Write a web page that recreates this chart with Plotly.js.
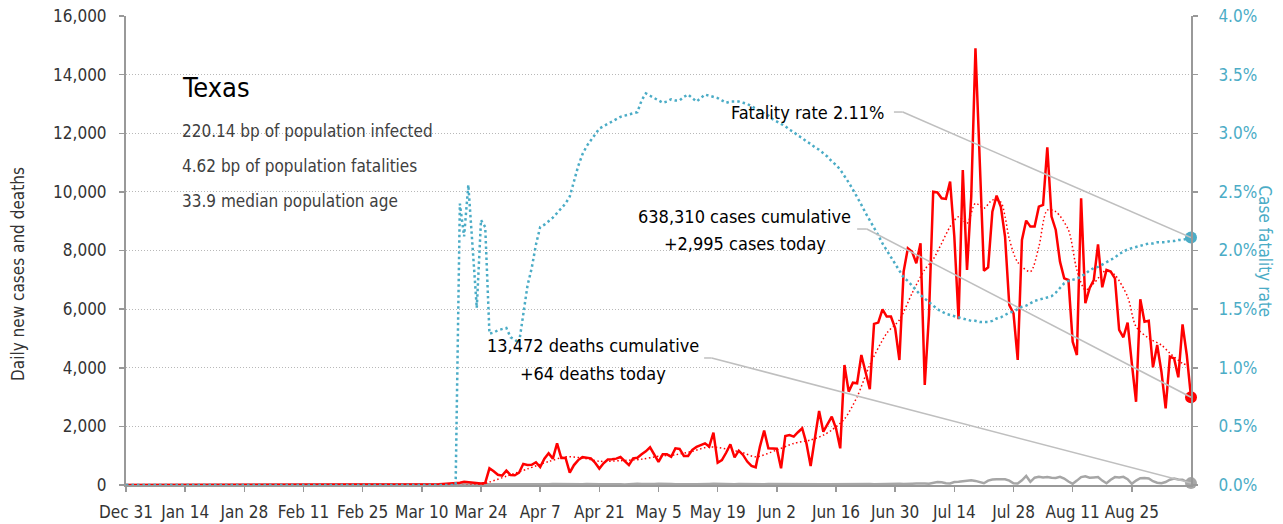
<!DOCTYPE html>
<html>
<head>
<meta charset="utf-8">
<script src="https://cdn.plot.ly/plotly-3.0.1.min.js"></script>
<style>
  html, body { margin: 0; padding: 0; background: #fff; }
  #chart { width: 1283px; height: 524px; }
</style>
</head>
<body>
<div id="chart"></div>
<script>
// ---------------- DATA ----------------
const startDate = '2019-12-31';

// Daily new cases, one value per day from Dec 31, 2019 to Sep 8, 2020
const dailyCases = [
  0,
  // Jan
  0,0,0,0,0,0,0,0,0,0,0,0,0,0,0,0,0,0,0,0,0,0,0,0,0,0,0,0,0,0,0,
  // Feb
  0,0,0,0,0,0,0,0,0,0,0,0,0,0,0,0,0,0,0,0,0,0,0,0,0,0,0,0,0,
  // Mar
  0,0,0,1,0,2,3,5,8,4,10,14,18,25,35,40,60,55,80,110,95,70,60,50,70,570,470,350,320,490,340,
  // Apr
  330,420,716,680,690,775,610,900,1080,900,1420,920,930,420,680,850,950,930,910,760,560,740,870,875,900,955,800,680,910,930,
  // May
  1050,1150,1285,1050,790,1045,1045,960,1250,1230,990,990,1200,1300,1365,1420,1310,1785,760,850,1100,1390,945,1170,1025,800,650,605,1310,1855,1250,
  // Jun
  1250,1240,570,1670,1705,1650,1800,1935,1420,650,1590,2525,1820,2100,2330,1935,1250,4095,3185,3490,3470,4435,3865,3265,5495,5540,5995,5745,5745,5345,
  // Jul
  4265,7280,8075,7960,7565,8245,3410,5800,10005,9980,9780,9760,10350,8470,5655,10745,7335,9835,14900,11315,7310,7425,9325,9870,9495,8470,6140,5855,4265,8360,9020,
  // Aug
  8815,8815,9495,9555,11520,9155,8700,7620,7050,6995,4890,4435,9780,6200,6710,6995,8210,6745,7335,7280,7050,5290,5040,5540,4150,2840,6335,5570,5605,4015,4775,
  // Sep
  3865,2615,4380,4320,3675,5480,4435,2995
];

// Daily new deaths, same days
const dailyDeaths = [
  0,
  0,0,0,0,0,0,0,0,0,0,0,0,0,0,0,0,0,0,0,0,0,0,0,0,0,0,0,0,0,0,0,
  0,0,0,0,0,0,0,0,0,0,0,0,0,0,0,0,0,0,0,0,0,0,0,0,0,0,0,0,0,
  0,0,0,0,0,0,0,0,0,0,0,0,0,0,0,0,0,1,1,2,1,3,2,4,5,3,6,8,9,7,12,
  14,10,15,18,16,22,12,20,25,30,28,22,20,18,25,30,28,35,26,20,22,28,32,30,35,25,18,30,38,40,
  35,28,22,35,42,45,38,30,25,30,32,38,28,24,20,30,35,40,32,28,22,18,26,35,30,28,25,20,18,24,30,
  28,35,30,22,20,26,32,30,28,25,20,18,22,28,30,25,20,18,25,30,28,35,40,30,22,28,35,40,45,50,
  42,30,25,45,55,40,50,45,80,100,95,60,55,100,110,130,150,160,140,110,60,150,190,200,190,195,150,60,50,160,310,
  110,250,280,260,270,250,240,280,220,120,40,150,270,300,250,260,270,150,60,180,270,260,280,200,40,150,230,240,220,130,80,
  60,100,180,220,190,180,110,64
];

// Case fatality rate (%), same days
const fatalityRate = [
  0,
  0,0,0,0,0,0,0,0,0,0,0,0,0,0,0,0,0,0,0,0,0,0,0,0,0,0,0,0,0,0,0,
  0,0,0,0,0,0,0,0,0,0,0,0,0,0,0,0,0,0,0,0,0,0,0,0,0,0,0,0,0,
  0,0,0,0,0,0,0,0,0,0,0,0,0,0,0,0,0,0,2.40,2.12,2.56,2.00,1.51,2.26,2.20,1.29,1.30,1.32,1.33,1.34,1.26,
  1.24,1.21,1.45,1.70,1.85,2.05,2.20,2.22,2.25,2.28,2.32,2.36,2.40,2.46,2.60,2.72,2.82,2.89,2.94,2.99,3.04,3.06,3.08,3.10,3.12,3.14,3.15,3.16,3.17,3.18,
  3.28,3.34,3.32,3.30,3.28,3.26,3.27,3.29,3.28,3.28,3.31,3.33,3.30,3.27,3.30,3.33,3.32,3.31,3.30,3.28,3.26,3.27,3.27,3.27,3.26,3.25,3.23,3.21,3.19,3.17,3.15,
  3.12,3.10,3.08,3.06,3.03,3.01,2.98,2.96,2.93,2.91,2.88,2.86,2.83,2.80,2.76,2.73,2.69,2.64,2.58,2.52,2.46,2.39,2.32,2.26,2.19,2.13,2.06,2.00,1.94,1.88,
  1.83,1.77,1.74,1.70,1.66,1.62,1.59,1.56,1.53,1.50,1.48,1.46,1.45,1.44,1.43,1.42,1.41,1.40,1.40,1.39,1.39,1.39,1.40,1.42,1.43,1.45,1.47,1.48,1.50,1.52,1.53,
  1.55,1.57,1.58,1.59,1.60,1.61,1.64,1.68,1.72,1.74,1.75,1.76,1.78,1.80,1.83,1.85,1.86,1.88,1.90,1.92,1.94,1.97,1.99,2.01,2.02,2.03,2.04,2.05,2.06,2.06,2.07,
  2.07,2.07,2.08,2.08,2.09,2.09,2.10,2.11
];

// Smoothed trend of daily cases (dotted red)
const trendDates = ['2019-12-31','2020-03-24','2020-03-26','2020-03-30','2020-04-04','2020-04-09','2020-04-13','2020-04-17',
  '2020-04-21','2020-04-26','2020-05-01','2020-05-05','2020-05-09','2020-05-13','2020-05-17','2020-05-21','2020-05-25',
  '2020-05-28','2020-06-02','2020-06-06','2020-06-10','2020-06-13','2020-06-15','2020-06-18','2020-06-21','2020-06-24',
  '2020-06-28','2020-07-01','2020-07-04','2020-07-07','2020-07-09','2020-07-11','2020-07-13','2020-07-15','2020-07-17',
  '2020-07-19','2020-07-21','2020-07-23','2020-07-25','2020-07-26','2020-07-27','2020-07-29','2020-08-01','2020-08-03',
  '2020-08-05','2020-08-07','2020-08-10','2020-08-12','2020-08-14','2020-08-16','2020-08-19','2020-08-21','2020-08-24',
  '2020-08-26','2020-08-29','2020-09-01','2020-09-03','2020-09-06','2020-09-07'];
const trendValues = [0,20,100,300,550,800,960,920,
  810,830,880,980,1030,1150,1300,1230,1100,
  960,1195,1420,1535,1700,1875,2250,3010,4095,
  5175,5630,6540,7350,7700,8245,8815,9155,8930,
  9610,9440,9725,9650,9155,8400,7600,7280,8130,
  9380,9325,8700,7335,6655,6880,7335,7165,6425,
  5400,5005,4775,4495,4150,4095];

const xTickFormat = '%b %-d';
const xTickStepDays = 14;
const texts = {
  state: 'Texas',
  stat1: '220.14 bp of population infected',
  stat2: '4.62 bp of population fatalities',
  stat3: '33.9 median population age',
  rate: 'Fatality rate 2.11%',
  cases1: '638,310 cases cumulative',
  cases2: '+2,995 cases today',
  deaths1: '13,472 deaths cumulative',
  deaths2: '+64 deaths today',
  yLeft: 'Daily new cases and deaths',
  yRight: 'Case fatality rate'
};

// ---------------- BUILD ----------------
function dayList(n) {
  const out = [];
  const t0 = Date.parse(startDate + 'T00:00:00Z');
  for (let i = 0; i < n; i++) {
    out.push(new Date(t0 + i * 86400000).toISOString().slice(0, 10));
  }
  return out;
}
const days = dayList(dailyCases.length);
const lastDay = days[days.length - 1];
const lastCases = dailyCases[dailyCases.length - 1];
const lastDeaths = dailyDeaths[dailyDeaths.length - 1];
const lastRate = fatalityRate[fatalityRate.length - 1];
// tick dates every two weeks, not including the final day
const xTicks = days.filter((d, i) => i % xTickStepDays === 0 && i < days.length - 1);

const FONT = "'DejaVu Sans Condensed', 'Liberation Sans Narrow', sans-serif";
const RED = '#ff0000';
const BLUE = '#4bacc6';
const GREY = '#a6a6a6';
const LEAD = '#bfbfbf';

const traces = [
  { x: days, y: dailyDeaths, type: 'scatter', mode: 'lines', line: { color: GREY, width: 2.5 }, hoverinfo: 'skip' },
  { x: days, y: dailyCases, type: 'scatter', mode: 'lines', line: { color: RED, width: 2.5 }, hoverinfo: 'skip' },
  { x: trendDates, y: trendValues, type: 'scatter', mode: 'lines', line: { color: RED, width: 1.5, dash: '1.5px,2.5px', shape: 'spline', smoothing: 0.8 }, hoverinfo: 'skip' },
  { x: days, y: fatalityRate, yaxis: 'y2', type: 'scatter', mode: 'lines', line: { color: BLUE, width: 2.5, dash: '2.5px,3px' }, hoverinfo: 'skip' },
  { x: [lastDay], y: [lastDeaths], type: 'scatter', mode: 'markers', marker: { color: GREY, size: 12 }, cliponaxis: false, hoverinfo: 'skip' },
  { x: [lastDay], y: [lastCases], type: 'scatter', mode: 'markers', marker: { color: RED, size: 12 }, cliponaxis: false, hoverinfo: 'skip' },
  { x: [lastDay], y: [lastRate], yaxis: 'y2', type: 'scatter', mode: 'markers', marker: { color: BLUE, size: 12 }, cliponaxis: false, hoverinfo: 'skip' }
];

function lead(x0, y0, x1, y1, yref) {
  return { type: 'line', xref: 'x', yref: yref, x0: x0, y0: y0, x1: x1, y1: y1, line: { color: LEAD, width: 1.5 }, layer: 'above' };
}
const shapes = [
  lead('2020-06-29 17:00', 3.181, '2020-07-01 19:00', 3.181, 'y2'),
  lead('2020-07-01 19:00', 3.181, lastDay, lastRate, 'y2'),
  lead('2020-06-21 00:00', 8733, '2020-06-23 07:00', 8733, 'y'),
  lead('2020-06-23 07:00', 8733, lastDay, lastCases, 'y'),
  lead('2020-05-15 19:00', 4333, '2020-05-17 14:00', 4333, 'y'),
  lead('2020-05-17 14:00', 4333, lastDay, lastDeaths, 'y')
];

function note(text, x, y, xref, yref, xanchor, size, color, family, extra) {
  return Object.assign({ text: text, x: x, y: y, xref: xref, yref: yref, xanchor: xanchor, yanchor: 'middle',
    showarrow: false, font: { family: family || FONT, size: size, color: color } }, extra || {});
}
const annotations = [
  note(texts.state, 0.051, 0.8465, 'paper', 'paper', 'left', 27, '#000', "'Liberation Sans Narrow', 'DejaVu Sans Condensed', sans-serif"),
  note(texts.stat1, 0.051, 0.7548, 'paper', 'paper', 'left', 17, '#404040'),
  note(texts.stat2, 0.051, 0.6802, 'paper', 'paper', 'left', 17, '#404040'),
  note(texts.stat3, 0.051, 0.6055, 'paper', 'paper', 'left', 17, '#404040'),
  note(texts.rate, '2020-06-27 19:00', 3.181, 'x', 'y2', 'right', 18, '#000'),
  note(texts.cases1, '2020-05-25 10:00', 9177, 'x', 'y', 'center', 18, '#000'),
  note(texts.cases2, '2020-05-25 10:00', 8256, 'x', 'y', 'center', 18, '#000'),
  note(texts.deaths1, '2020-04-19 12:00', 4776, 'x', 'y', 'center', 18, '#000'),
  note(texts.deaths2, '2020-04-19 12:00', 3821, 'x', 'y', 'center', 18, '#000'),
  note(texts.yLeft, -0.1014, 0.45, 'paper', 'paper', 'center', 17, '#333', null, { textangle: -90 }),
  note(texts.yRight, 1.0695, 0.498, 'paper', 'paper', 'center', 17, BLUE, null, { textangle: 90 })
];

const layout = {
  width: 1283, height: 524,
  margin: { l: 126, r: 92, t: 16, b: 39, pad: 0 },
  paper_bgcolor: '#fff', plot_bgcolor: '#fff',
  showlegend: false,
  font: { family: FONT, size: 17, color: '#333' },
  xaxis: {
    type: 'date', range: [startDate, lastDay],
    tickmode: 'array', tickvals: xTicks, tickformat: xTickFormat,
    ticks: 'outside', ticklen: 5, tickwidth: 1.5, tickcolor: '#999',
    ticklabelstandoff: 6,
    showline: true, linecolor: '#999', linewidth: 2,
    showgrid: false, zeroline: false,
    tickfont: { family: FONT, size: 17, color: '#333' }
  },
  yaxis: {
    range: [0, 16000], dtick: 2000, tick0: 0, tickformat: ',d',
    ticks: 'outside', ticklen: 5, tickwidth: 1.5, tickcolor: '#999',
    ticklabelstandoff: 9,
    showline: true, linecolor: '#999', linewidth: 2,
    showgrid: true, gridcolor: '#b8b8b8', gridwidth: 1, griddash: '1px,2px',
    zeroline: false,
    tickfont: { family: FONT, size: 17, color: '#333' }
  },
  yaxis2: {
    overlaying: 'y', side: 'right',
    range: [0, 4], dtick: 0.5, tick0: 0, tickformat: '.1f', ticksuffix: '%',
    ticks: 'outside', ticklen: 5, tickwidth: 1.5, tickcolor: '#999',
    ticklabelstandoff: 17,
    showline: true, linecolor: '#999', linewidth: 2,
    showgrid: false, zeroline: false,
    tickfont: { family: FONT, size: 17, color: BLUE }
  },
  shapes: shapes,
  annotations: annotations
};

Plotly.newPlot('chart', traces, layout, { displayModeBar: false, staticPlot: true });
</script>
</body>
</html>
